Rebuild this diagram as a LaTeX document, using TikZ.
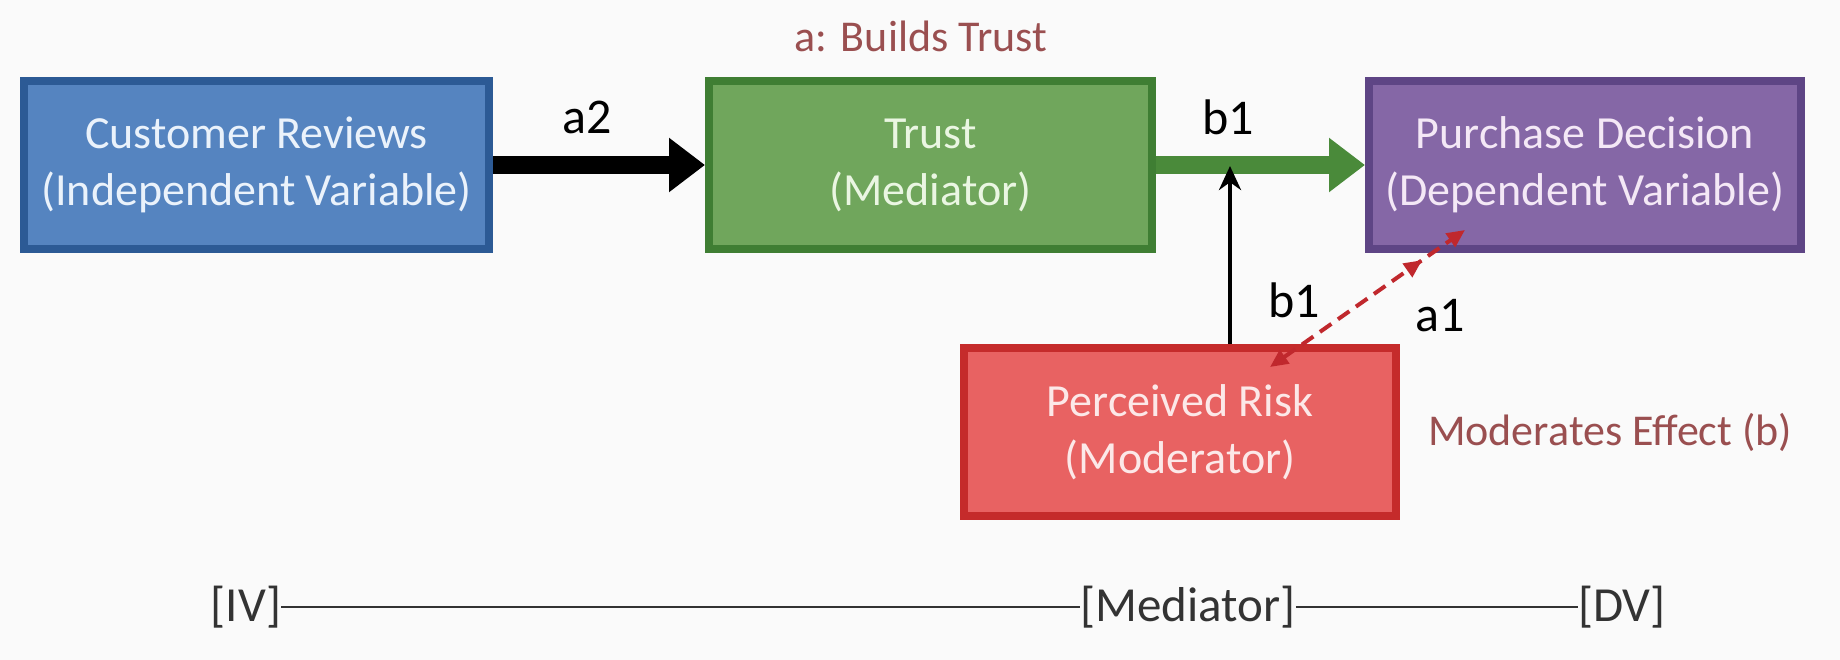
\documentclass[tikz,border=0pt]{standalone}
\usepackage{fontspec}
\setmainfont{Carlito}
\usetikzlibrary{arrows.meta,decorations.markings}
\definecolor{bg}{HTML}{FAFAFA}
\definecolor{bluefill}{HTML}{5584C0}
\definecolor{blueedge}{HTML}{2C5A95}
\definecolor{bluetext}{HTML}{EAF2FB}
\definecolor{greenfill}{HTML}{70A65C}
\definecolor{greenedge}{HTML}{3F7E33}
\definecolor{greentext}{HTML}{EAF6E2}
\definecolor{greenarrow}{HTML}{4A8A3A}
\definecolor{purplefill}{HTML}{8567A6}
\definecolor{purpleedge}{HTML}{5E4585}
\definecolor{purpletext}{HTML}{F4E8F6}
\definecolor{redfill}{HTML}{E86262}
\definecolor{rededge}{HTML}{C52B2B}
\definecolor{redtext}{HTML}{FCE8E8}
\definecolor{dashred}{HTML}{C0282D}
\definecolor{notec}{HTML}{9A4F50}
\definecolor{scalec}{HTML}{333333}
\begin{document}
\begin{tikzpicture}[x=1pt,y=-1pt,
  box/.style={draw, line width=8pt, align=center, inner sep=0pt, font=\fontsize{46}{57}\selectfont},
  lbl/.style={font=\fontsize{50}{58}\selectfont, inner sep=0pt, text=black},
  note/.style={font=\fontsize{44}{52}\selectfont, text=notec, inner sep=0pt},
  scaletext/.style={font=\fontsize{49}{56}\selectfont, text=scalec, inner sep=0pt},
  scaleline/.style={draw=scalec, line width=2.5pt},
  bigarrow/.style={-{Triangle[width=52pt,length=36pt]}, line width=18pt},
  riskarrow/.style={dashred, line width=4pt, dash pattern=on 14pt off 8pt,
    {Triangle[width=16pt,length=18pt]}-{Triangle[width=16pt,length=18pt]},
    postaction={decorate, decoration={markings,
      mark=at position 0.78 with {\arrow{Triangle[width=16pt,length=18pt]}}}}},
]
\useasboundingbox[fill=bg] (0,0) rectangle (1840,660);

\node[box, fill=bluefill, draw=blueedge, text=bluetext, minimum width=465pt, minimum height=168pt] (iv) at (256.5,165) {Customer Reviews\\(Independent Variable)};
\node[box, fill=greenfill, draw=greenedge, text=greentext, minimum width=443pt, minimum height=168pt] (med) at (930.5,165) {Trust\\(Mediator)};
\node[box, fill=purplefill, draw=purpleedge, text=purpletext, minimum width=432pt, minimum height=168pt] (dv) at (1585,165) {Purchase Decision\\(Dependent Variable)};
\node[box, fill=redfill, draw=rededge, text=redtext, minimum width=432pt, minimum height=168pt] (mod) at (1180,432) {Perceived Risk\\(Moderator)};

\node[note] (buildtrust) at (921,36) {a: Builds Trust};
\node[note] (modeff) at (1610,432) {Moderates Effect (b)};

\draw[bigarrow, black] (iv.east) -- (med.west);
\draw[bigarrow, greenarrow] (med.east) -- (dv.west);

\node[lbl] (la2) at (587,117) {a2};
\node[lbl] (lb1top) at (1228,117) {b1};
\node[lbl] (lb1) at (1294,300) {b1};
\node[lbl] (la1) at (1440,316) {a1};

\coordinate (vtop) at (1230,166);
\draw[-{Stealth[length=24pt,width=22pt]}, line width=4pt, black] (mod.north -| vtop) -- (vtop);

\coordinate (dA) at (1270,367);
\coordinate (dB) at (1465,230);
\draw[riskarrow] (dA) -- (dB);

\node[scaletext] (siv) at (246,607) {[IV]};
\node[scaletext] (smed) at (1188,607) {[Mediator]};
\node[scaletext] (sdv) at (1622,607) {[DV]};
\draw[scaleline] (siv.east) -- (smed.west);
\draw[scaleline] (smed.east) -- (sdv.west);
\end{tikzpicture}
\end{document}
